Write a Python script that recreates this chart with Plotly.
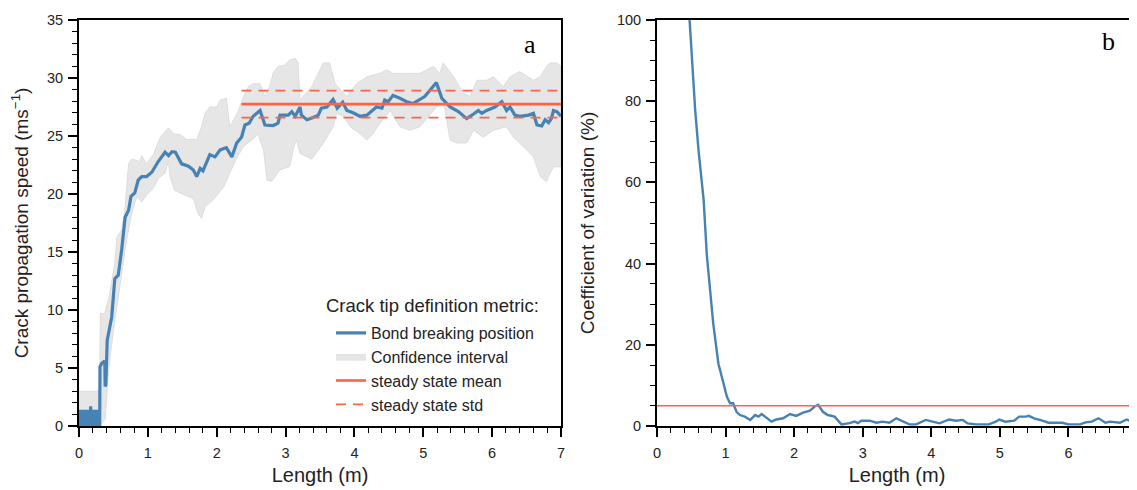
import plotly.graph_objects as go

# ---------------- data: panel a ----------------
bond_x = [0.00, 0.01, 0.02, 0.03, 0.04, 0.05, 0.06, 0.07, 0.08, 0.09, 0.10, 0.11, 0.12, 0.13, 0.14,
          0.15, 0.16, 0.17, 0.18, 0.19, 0.20, 0.21, 0.22, 0.23, 0.24, 0.25, 0.26, 0.27, 0.28, 0.29, 0.30,
          0.305, 0.33, 0.36, 0.375, 0.38, 0.39, 0.40, 0.41, 0.475, 0.52, 0.57, 0.62, 0.67, 0.72, 0.755,
          0.81, 0.86, 0.91, 0.98, 1.06, 1.15, 1.25, 1.30, 1.35, 1.40, 1.49, 1.59, 1.66, 1.71, 1.76, 1.80,
          1.90, 1.975, 2.05, 2.14, 2.22, 2.29, 2.36, 2.41, 2.47, 2.53, 2.63, 2.70, 2.82, 2.89, 2.92, 3.04,
          3.09, 3.14, 3.21, 3.23, 3.31, 3.40, 3.475, 3.52, 3.60, 3.69, 3.75, 3.83, 3.89, 3.98, 4.08, 4.18,
          4.27, 4.32, 4.40, 4.44, 4.49, 4.56, 4.66, 4.76, 4.85, 4.95, 5.02, 5.10, 5.19, 5.27, 5.39, 5.51,
          5.63, 5.73, 5.80, 5.85, 5.92, 6.04, 6.14, 6.21, 6.26, 6.33, 6.40, 6.53, 6.60, 6.65, 6.72, 6.77,
          6.82, 6.86, 6.89, 6.94, 7.00]
bond_speed = [0.0, 1.4, 0.1, 1.3, 0.0, 1.4, 0.2, 1.4, 0.0, 1.3, 0.1, 1.4, 0.0, 1.4, 0.1,
              1.3, 0.0, 1.7, 0.1, 1.4, 0.0, 1.3, 0.1, 1.4, 0.0, 1.4, 0.1, 1.3, 0.0, 1.4, 0.0,
              5.1, 5.4, 5.55, 5.5, 3.4, 3.6, 5.5, 7.4, 9.4, 12.7, 13.0, 15.2, 18.0, 18.6, 19.8,
              20.1, 21.2, 21.5, 21.5, 21.9, 22.8, 23.6, 23.3, 23.65, 23.6, 22.6, 22.4, 22.07, 21.5, 22.2, 22.0,
              23.4, 23.2, 23.8, 24.0, 23.2, 24.4, 24.9, 25.95, 26.1, 26.7, 27.2, 25.95, 25.9, 26.1, 26.8, 26.8,
              27.1, 26.7, 27.5, 26.8, 26.4, 26.6, 26.8, 27.4, 27.5, 28.15, 27.4, 27.9, 27.2, 27.0, 26.7, 26.8,
              27.2, 27.5, 27.4, 28.1, 27.95, 28.5, 28.25, 27.96, 27.8, 28.15, 28.4, 28.97, 29.6, 28.25, 27.5, 27.1,
              26.5, 26.9, 27.2, 26.95, 27.2, 27.5, 27.96, 27.2, 27.5, 26.8, 26.7, 26.8, 26.95, 25.95, 25.86, 26.4,
              26.15, 26.5, 27.2, 27.1, 26.7]

ci_upper_x = [0.00, 0.30, 0.31, 0.37, 0.43, 0.52, 0.55, 0.62, 0.67, 0.72, 0.765, 0.89, 0.91, 0.98, 1.08,
              1.18, 1.30, 1.37, 1.47, 1.56, 1.71, 1.78, 1.83, 1.90, 2.00, 2.05, 2.14, 2.19, 2.31, 2.39,
              2.46, 2.53, 2.63, 2.70, 2.77, 2.82, 2.89, 2.99, 3.06, 3.14, 3.18, 3.21, 3.38, 3.55, 3.64,
              3.72, 3.89, 4.03, 4.18, 4.37, 4.47, 4.56, 4.76, 4.95, 5.15, 5.24, 5.29, 5.44, 5.58, 5.68,
              5.78, 5.92, 6.02, 6.16, 6.26, 6.40, 6.60, 6.70, 6.79, 6.84, 6.94, 7.00]
ci_upper = [3.0, 3.0, 9.7, 9.7, 10.9, 14.0, 16.3, 16.9, 18.9, 22.6, 23.0, 22.8, 23.3, 22.6, 23.4,
            24.9, 25.7, 25.2, 25.1, 24.7, 24.7, 25.8, 26.95, 27.5, 27.5, 28.1, 28.25, 25.8, 27.1, 28.4,
            29.25, 29.5, 29.5, 28.4, 29.25, 30.4, 31.0, 31.1, 31.55, 31.7, 31.3, 28.1, 29.25, 31.3, 31.3,
            29.5, 28.4, 29.5, 30.1, 30.4, 30.7, 30.4, 30.4, 30.4, 31.0, 30.4, 31.3, 30.1, 28.7, 28.4,
            29.8, 29.8, 30.1, 29.25, 30.1, 30.55, 29.8, 30.1, 31.0, 31.3, 31.3, 31.0]

ci_lower_x = [0.00, 0.30, 0.38, 0.43, 0.50, 0.60, 0.69, 0.765, 0.84, 0.91, 0.98, 1.08, 1.15, 1.25, 1.30,
              1.32, 1.39, 1.54, 1.66, 1.73, 1.78, 1.83, 1.95, 2.10, 2.19, 2.29, 2.39, 2.51, 2.60, 2.68,
              2.73, 2.80, 2.92, 3.06, 3.12, 3.16, 3.21, 3.38, 3.55, 3.69, 3.74, 3.84, 3.94, 4.08, 4.18,
              4.27, 4.37, 4.52, 4.66, 4.81, 4.95, 5.15, 5.29, 5.39, 5.49, 5.63, 5.73, 5.87, 6.02, 6.21,
              6.31, 6.45, 6.60, 6.70, 6.79, 6.84, 6.89, 7.00]
ci_lower = [0.0, 0.0, 0.6, 4.8, 8.3, 12.3, 16.0, 18.3, 19.8, 19.3, 19.9, 20.5, 21.35, 21.8, 22.9,
            21.5, 20.3, 19.9, 19.6, 18.3, 17.9, 18.9, 19.5, 20.6, 21.8, 23.1, 24.1, 24.65, 25.2, 23.8,
            21.2, 21.1, 22.1, 22.35, 24.1, 24.65, 23.5, 23.0, 24.4, 25.8, 26.95, 26.7, 25.8, 25.2, 24.65,
            25.2, 26.1, 27.2, 25.8, 25.5, 25.8, 27.2, 28.1, 24.65, 24.4, 24.4, 25.5, 24.9, 25.5, 25.8,
            24.9, 24.1, 23.2, 21.5, 21.05, 21.8, 22.35, 22.35]

steady_x = [2.36, 7.0]
steady_mean = 27.75
steady_std = 1.17

# ---------------- data: panel b ----------------
cv_x = [0.42, 0.475, 0.557, 0.605, 0.68, 0.727, 0.775, 0.82, 0.895, 0.97, 1.02, 1.065, 1.11, 1.16, 1.21,
        1.28, 1.36, 1.43, 1.48, 1.525, 1.60, 1.67, 1.74, 1.84, 1.94, 2.03, 2.13, 2.23, 2.30, 2.35, 2.42,
        2.49, 2.59, 2.69, 2.81, 2.88, 2.93, 2.98, 3.10, 3.20, 3.29, 3.39, 3.49, 3.59, 3.68, 3.78, 3.92,
        4.02, 4.12, 4.26, 4.36, 4.46, 4.53, 4.65, 4.84, 4.94, 4.99, 5.08, 5.21, 5.28, 5.38, 5.42, 5.50,
        5.62, 5.71, 5.81, 5.91, 6.00, 6.17, 6.25, 6.34, 6.44, 6.54, 6.61, 6.75, 6.85, 6.92, 6.97]
cv_pct = [115, 100, 77.8, 68, 55.7, 42, 33.5, 25.3, 15.4, 10.5, 7.2, 5.6, 5.6, 3.5, 2.7,
          2.3, 1.5, 2.7, 2.3, 2.95, 1.9, 1.07, 1.6, 1.9, 2.95, 2.5, 3.3, 3.8, 4.8, 5.2, 3.5,
          2.7, 2.3, 0.4, 0.7, 1.1, 0.7, 1.3, 1.3, 0.8, 1.07, 0.8, 1.9, 1.07, 0.4, 0.4, 1.5,
          1.07, 0.65, 1.6, 1.3, 1.5, 0.65, 0.4, 0.4, 1.07, 1.6, 1.07, 1.3, 2.3, 2.3, 2.5, 1.9,
          1.3, 0.8, 0.8, 0.8, 0.4, 0.4, 0.9, 1.07, 1.9, 0.8, 1.07, 0.8, 1.6, 1.07, 0.9]
cv_threshold_x = [0, 7]
cv_threshold = 5

BLUE = "#4682b4"
RED = "#ff6347"
GRAY = "#e6e6e6"
FONT = "Liberation Sans, Arial, sans-serif"
SERIF = "Liberation Serif, Times New Roman, serif"

fig = go.Figure()

fig.add_trace(go.Scatter(
    x=ci_upper_x + ci_lower_x[::-1], y=ci_upper + ci_lower[::-1],
    fill="toself", fillcolor=GRAY, line=dict(color="#dddddd", width=1),
    mode="lines", name="Confidence interval", legendrank=2, xaxis="x", yaxis="y", hoverinfo="skip"))
fig.add_trace(go.Scatter(
    x=bond_x, y=bond_speed, mode="lines", line=dict(color=BLUE, width=3.2),
    name="Bond breaking position", legendrank=1, xaxis="x", yaxis="y"))
fig.add_trace(go.Scatter(
    x=steady_x, y=[steady_mean] * len(steady_x), mode="lines", line=dict(color=RED, width=2.6),
    name="steady state mean", legendrank=3, xaxis="x", yaxis="y"))
fig.add_trace(go.Scatter(
    x=steady_x, y=[steady_mean + steady_std] * len(steady_x), mode="lines",
    line=dict(color=RED, width=1.8, dash="10px,7px"),
    name="steady state std", legendrank=4, xaxis="x", yaxis="y"))
fig.add_trace(go.Scatter(
    x=steady_x, y=[steady_mean - steady_std] * len(steady_x), mode="lines",
    line=dict(color=RED, width=1.8, dash="10px,7px"),
    name="steady state std", showlegend=False, xaxis="x", yaxis="y"))

fig.add_trace(go.Scatter(
    x=cv_x, y=cv_pct, mode="lines", line=dict(color=BLUE, width=2.4),
    showlegend=False, xaxis="x2", yaxis="y2"))
fig.add_trace(go.Scatter(
    x=cv_threshold_x, y=[cv_threshold] * 2, mode="lines", line=dict(color=RED, width=1.6),
    showlegend=False, xaxis="x2", yaxis="y2"))

# The page body adds an 8px offset; positions below are in screen pixels.
OFF = 8
W, H = 1137 - OFF, 490 - OFF
ML, MR, MT, MB = 79 - OFF, 0, 20 - OFF, 64
PW = W - ML - MR
PH = H - MT - MB
L1, R1 = 79, 561
L2, R2 = 657, 1137


def px(X):
    return (X - OFF - ML) / PW


def py(Y):
    return (H - MB - (Y - OFF)) / PH


axis_common = dict(
    showgrid=False, zeroline=False, showline=True, linecolor="black", linewidth=2, mirror=True,
    ticks="outside", ticklen=9, tickwidth=2, tickcolor="black", automargin=False,
    tickfont=dict(family=FONT, size=14.5, color="#222"),
    title_font=dict(family=FONT, size=19, color="#222"),
)
minor_x = dict(dtick=0.2, ticks="outside", ticklen=5, tickwidth=1, tickcolor="black")
xtitle_font = dict(family=FONT, size=20, color="#222")

fig.update_layout(
    width=W, height=H,
    margin=dict(l=ML, r=MR, t=MT, b=MB),
    paper_bgcolor="white", plot_bgcolor="white",
    font=dict(family=FONT, color="#222"),
    xaxis=dict(axis_common, domain=[px(L1), px(R1)], range=[0, 7], dtick=1, tick0=0,
               minor=minor_x, ticklabelstandoff=4,
               title=dict(text="Length (m)", standoff=8, font=xtitle_font), anchor="y"),
    yaxis=dict(axis_common, range=[0, 35], dtick=5, tick0=0, ticklabelstandoff=2,
               minor=dict(dtick=1, ticks="outside", ticklen=5, tickwidth=1, tickcolor="black"),
               title=dict(text="Crack propagation speed (ms<sup>\u22121</sup>)", standoff=17), anchor="x"),
    xaxis2=dict(axis_common, domain=[px(L2), px(R2)], range=[0, 7], dtick=1, tick0=0,
                minor=minor_x, ticklabelstandoff=4,
                title=dict(text="Length (m)", standoff=8, font=xtitle_font), anchor="y2"),
    yaxis2=dict(axis_common, range=[0, 100], dtick=20, tick0=0, ticklabelstandoff=2,
                minor=dict(dtick=5, ticks="outside", ticklen=5, tickwidth=1, tickcolor="black"),
                title=dict(text="Coefficient of variation (%)", standoff=17), anchor="x2"),
    legend=dict(
        x=px(331), y=py(316), xanchor="left", yanchor="top",
        bgcolor="rgba(255,255,255,0)", borderwidth=0,
        font=dict(family=FONT, size=16, color="#222"),
        itemwidth=30,
    ),
    annotations=[
        dict(text="Crack tip definition metric:", xref="paper", yref="paper",
             x=px(324), y=py(305), xanchor="left", yanchor="middle", showarrow=False,
             font=dict(family=FONT, size=18.5, color="#222")),
        dict(text="a", xref="paper", yref="paper", x=px(530), y=py(45),
             xanchor="center", yanchor="middle",
             showarrow=False, font=dict(family=SERIF, size=26, color="black")),
        dict(text="b", xref="paper", yref="paper", x=px(1108), y=py(41),
             xanchor="center", yanchor="middle",
             showarrow=False, font=dict(family=SERIF, size=26, color="black")),
    ],
)

fig.write_html("out.html")
